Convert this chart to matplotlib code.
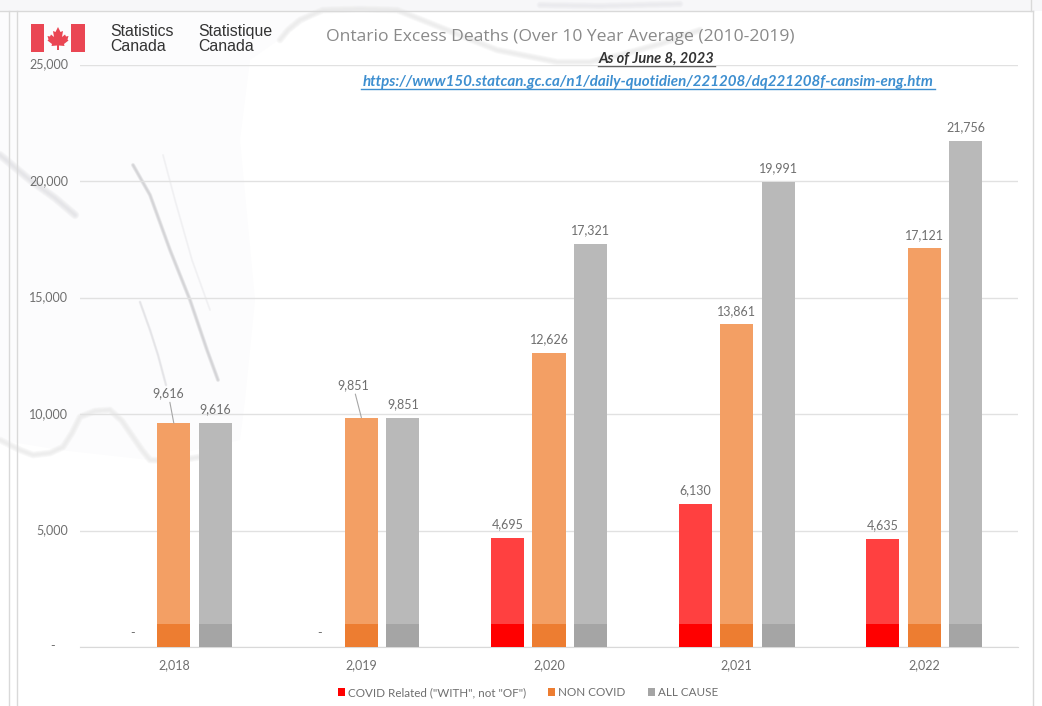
import matplotlib
matplotlib.use('Agg')
import matplotlib.pyplot as plt
from matplotlib.patches import Polygon, Rectangle
from matplotlib.ticker import FuncFormatter
from matplotlib.transforms import ScaledTranslation

plt.rcParams['font.family'] = ['Lato', 'DejaVu Sans']

# values
years = [2018, 2019, 2020, 2021, 2022]
covid = [0, 0, 4695, 6130, 4635]
non_covid = [9616, 9851, 12626, 13861, 17121]
all_cause = [9616, 9851, 17321, 19991, 21756]
y_ticks = [0, 5000, 10000, 15000, 20000, 25000]
band_top = 1000  # the solid strip at the foot of each bar

series_names = ['COVID Related ("WITH", not "OF")', 'NON COVID', 'ALL CAUSE']
series_values = [covid, non_covid, all_cause]
colors = ['#ff0000', '#ed7d31', '#a5a5a5']
light_colors = ['#ff4040', '#f39f64', '#b9b9b9']
offsets = [-0.221, 0, 0.221]
bar_w = 0.176

# labels moved away from the NON COVID bars, with a leader line (offset in points)
moved_labels = {0: (-4, 17), 1: (-6, 19)}

W, H = 1042, 706
TXT = '#6f6f6f'


def fx(px):
    return px / W


def fy(px):
    return 1 - px / H


def soft_line(axis, xs, ys, color, width):
    # stacked see-through strokes give a blurred edge
    for k in range(1, 6):
        axis.plot(xs, ys, color=color, lw=width * k / 5, alpha=0.2,
                  solid_capstyle='round', solid_joinstyle='round')


fig = plt.figure(figsize=(W / 100, H / 100), dpi=100, facecolor='white')

# marble background, faint streaks at the upper left
bg = fig.add_axes([0, 0, 1, 1], zorder=0)
bg.set_xlim(0, W)
bg.set_ylim(H, 0)
bg.axis('off')
bg.add_patch(Rectangle((0, 0), W, 11, color='#f7f7f9', lw=0))
bg.add_patch(Polygon([(0, 11), (320, 11), (250, 60), (240, 140), (255, 300), (245, 400), (240, 440),
                      (150, 460), (60, 450), (0, 440)], color='#fcfcfd', lw=0))
soft_line(bg, [133, 150, 170, 190, 207, 218], [165, 195, 250, 300, 350, 380], '#c0c0c4', 3.0)
soft_line(bg, [140, 150, 158, 166], [302, 330, 355, 385], '#d8d8dc', 2.0)
soft_line(bg, [163, 175, 192, 210], [155, 200, 260, 310], '#ebebee', 1.5)
soft_line(bg, [0, 30, 55, 75], [155, 180, 198, 215], '#dcdce0', 6.0)
soft_line(bg, [0, 20, 33, 50, 63, 72, 80, 95, 110, 122, 133, 142, 150, 175, 200, 227],
          [440, 450, 455, 453, 447, 433, 417, 411, 410, 421, 437, 450, 460, 461, 457, 440], '#e6e6e6', 5.0)
soft_line(bg, [280, 288, 300, 323, 360, 397, 447, 497, 557, 590, 620, 660, 700],
          [40, 30, 20, 10, 9, 10, 30, 50, 62, 62, 55, 44, 30], '#e6e6e6', 5.0)
soft_line(bg, [540, 600, 680], [5, 6, 4], '#e6e6ea', 5.0)

# window frame around the chart
frame = '#d9d9d9'
bg.plot([9, 9], [11, H], color=frame, lw=1)
bg.plot([17, 17], [11, H], color=frame, lw=1)
bg.plot([0, 1033], [11, 11], color=frame, lw=1)
bg.plot([1031, 1031], [0, 11], color=frame, lw=1)
bg.plot([1033, 1033], [11, H], color=frame, lw=1)

ax = fig.add_axes([fx(80), fy(647), (1018 - 80) / W, (647 - 65) / H], zorder=1)
ax.patch.set_alpha(0)
ax.set_xlim(-0.5, 4.5)
ax.set_ylim(0, 25000)

for name, vals, off, col, light in zip(series_names, series_values, offsets, colors, light_colors):
    xs = [i + off for i in range(len(years))]
    ax.bar(xs, vals, bar_w, color=light, zorder=3)
    ax.bar(xs, [min(v, band_top) for v in vals], bar_w, color=col, zorder=4)
    ax.bar([0], [0], color=col, label=name)  # legend handle keeps the solid colour

# data labels
for vals, off in zip(series_values, offsets):
    for i, v in enumerate(vals):
        txt = f'{v:,}' if v > 0 else '-'
        if off == 0 and i in moved_labels:
            ax.annotate(txt, (i + off, v), xytext=moved_labels[i], textcoords='offset points',
                        ha='center', va='bottom', fontsize=9, color=TXT, zorder=5,
                        arrowprops=dict(arrowstyle='-', color='#a6a6a6', lw=0.8, shrinkA=0, shrinkB=0))
        else:
            ax.annotate(txt, (i + off, v), xytext=(0, 5.5), textcoords='offset points',
                        ha='center', va='bottom', fontsize=9, color=TXT, zorder=5)

ax.yaxis.set_major_formatter(FuncFormatter(lambda v, p: f'{int(v):,}' if v > 0 else '-    '))
ax.set_yticks(y_ticks)
ax.set_xticks(range(len(years)))
ax.set_xticklabels([f'{y:,}' for y in years])
ax.tick_params(axis='both', length=0, labelsize=9, labelcolor=TXT)
ax.tick_params(axis='x', pad=9)
ax.tick_params(axis='y', pad=8.5)
# y labels sit a little above their grid lines
up = ScaledTranslation(0, 1.5 / 100, fig.dpi_scale_trans)
for lab in ax.get_yticklabels():
    lab.set_transform(lab.get_transform() + up)
ax.grid(axis='y', color='#e1e1e1', lw=1, zorder=1)
ax.set_axisbelow(True)
for s in ['top', 'right', 'left']:
    ax.spines[s].set_visible(False)
ax.spines['bottom'].set_color('#d9d9d9')

ax.legend(loc='lower center', bbox_to_anchor=(fx(528), fy(698)), bbox_transform=fig.transFigure,
          ncol=3, frameon=False, fontsize=8.4, labelcolor=TXT, handlelength=0.6, handleheight=0.6,
          handletextpad=0.25, columnspacing=1.9, borderpad=0, borderaxespad=0)

# titles
fig.text(fx(560), fy(37), 'Ontario Excess Deaths (Over 10 Year Average (2010-2019)', ha='center', va='center',
         fontsize=12.6, color='#8a8a8a', family=['Open Sans', 'DejaVu Sans'], zorder=5)
fig.text(fx(656), fy(58.5), 'As of June 8, 2023', ha='center', va='center', fontsize=10.5, color='#333333',
         style='italic', weight='bold', zorder=5)
fig.text(fx(648), fy(82), 'https://www150.statcan.gc.ca/n1/daily-quotidien/221208/dq221208f-cansim-eng.htm',
         ha='center', va='center', fontsize=10.9, color='#3e8fd0', style='italic', weight='bold', zorder=5)
bg.plot([598, 715], [66, 66], color='#444444', lw=1, zorder=5)
bg.plot([361, 935], [89, 89], color='#3e8fd0', lw=1, zorder=5)

# Statistics Canada wordmark
logo_red = '#ea4653'
top = fig.add_axes([0, 0, 1, 1], zorder=3)
top.set_xlim(0, W)
top.set_ylim(H, 0)
top.axis('off')
top.add_patch(Rectangle((31, 24), 13, 28, color=logo_red, lw=0))
top.add_patch(Rectangle((71, 24), 14, 28, color=logo_red, lw=0))
leaf = [(58, 27), (60.5, 32), (63, 31), (62, 37), (65, 34.5), (66, 36.5), (68.5, 36), (67.5, 39.5), (68.5, 40.5),
        (64, 44), (64.5, 46), (59, 45.5), (59, 50), (57, 50), (57, 45.5), (51.5, 46), (52, 44), (47.5, 40.5),
        (48.5, 39.5), (47.5, 36), (50, 36.5), (51, 34.5), (54, 37), (53, 31), (55.5, 32)]
top.add_patch(Polygon(leaf, closed=True, color=logo_red, lw=0))
for x, a, b in [(110, 'Statistics', 'Canada'), (198, 'Statistique', 'Canada')]:
    top.text(x, 31.5, a, fontsize=11.4, color='#333333', family='Liberation Sans', va='center')
    top.text(x, 46.5, b, fontsize=11.4, color='#333333', family='Liberation Sans', va='center')

fig.savefig('out.png', dpi=100)
